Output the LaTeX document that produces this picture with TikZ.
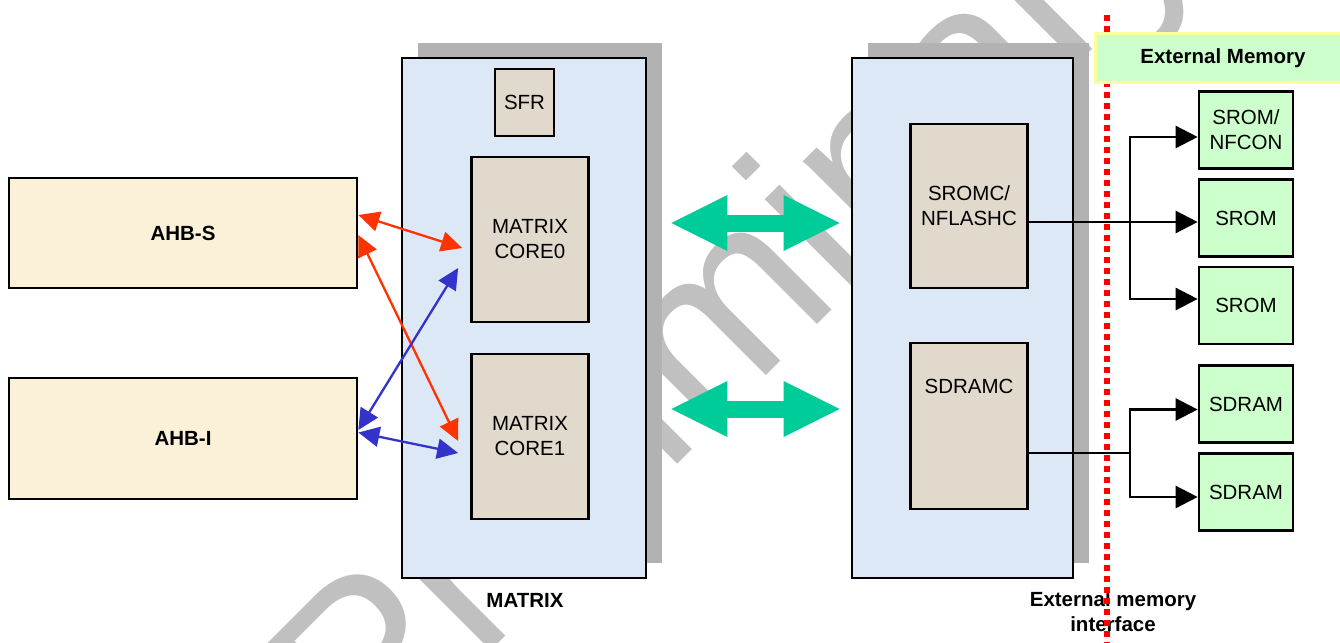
\documentclass[tikz,border=0pt]{standalone}
\usepackage{fontspec}
\setmainfont{Liberation Sans}
\usetikzlibrary{arrows.meta,shadows}
\definecolor{Afill}{HTML}{FBF0D8}
\definecolor{Mfill}{HTML}{DCE8F6}
\definecolor{Cfill}{HTML}{E1D9CB}
\definecolor{Efill}{HTML}{CCFFCC}
\definecolor{Eline}{HTML}{FFFF99}
\definecolor{Shade}{HTML}{B2B2B2}
\definecolor{Wmark}{HTML}{C0C0C0}
\definecolor{Rline}{HTML}{FF3300}
\definecolor{Bline}{HTML}{3333CC}
\definecolor{Gbus}{HTML}{00CC99}

\begin{document}
\begin{tikzpicture}[x=1pt,y=-1pt,
    font=\fontsize{20.5}{25}\selectfont,
    box/.style={draw=black,line width=2.7pt,inner sep=0pt,align=center},
    blk/.style={box,fill=Mfill,minimum height=520pt,
      drop shadow={shadow xshift=16pt,shadow yshift=15pt,fill=Shade,opacity=1}},
    core/.style={box,fill=Cfill,minimum width=117pt},
    mem/.style={box,fill=Efill,minimum width=94pt,minimum height=77pt},
    bus/.style={Gbus,line width=17pt,
      {Triangle[length=56pt,width=56pt,line width=0pt]}-{Triangle[length=56pt,width=56pt,line width=0pt]}},
    link/.style={line width=2.6pt,-{Triangle[length=22pt,width=22pt]}},
    req/.style={line width=2.3pt,{Triangle[length=21pt,width=20pt]}-{Triangle[length=21pt,width=20pt]}}]
\def\bold{\fontsize{20.5}{25}\selectfont\bfseries}

\useasboundingbox (0,0) rectangle (1340,642);

% ---- watermark ----
\begin{scope}
  \clip (0,0) rectangle (1340,642);
  \node[Wmark,rotate=45,anchor=base west,inner sep=0pt,
        font=\fontsize{237}{237}\selectfont] (wmark) at (368,774) {Preliminary};
\end{scope}

% ---- AHB masters ----
\node[box,fill=Afill,minimum width=348pt,minimum height=110pt,font=\bold] (ahbs) at (183,233) {AHB-S};
\node[box,fill=Afill,minimum width=348pt,minimum height=121pt,font=\bold] (ahbi) at (183,438.5) {AHB-I};

% ---- matrix block ----
\node[blk,minimum width=244pt] (matrix) at (524,318) {};
\node[core,minimum width=59pt,minimum height=67pt] (sfr) at (524.5,102.5) {SFR};
\node[core,minimum height=165pt] (core0) at (530,239.5) {MATRIX\\CORE0};
\node[core,minimum height=165pt] (core1) at (530,436.5) {MATRIX\\CORE1};
\node[font=\bold] (matrixlbl) at (525,600) {MATRIX};

% ---- memory interface block ----
\node[blk,minimum width=221pt] (memctl) at (962.5,318) {};
\node[core,minimum height=164pt] (sromc) at (969,206) {SROMC/\\NFLASHC};
\node[core,minimum height=166pt] (sdramc) at (969,426) {};
\node[anchor=north,inner sep=0pt] (sdramctxt) at ([yshift=-37.5pt]sdramc.north) {SDRAMC};
\node[align=center,font=\bold] (emilbl) at (1113,612) {External memory\\interface};

% ---- boundary ----
\draw[red,line width=6pt,dash pattern=on 6pt off 5pt] (1107,15) -- (1107,650);
\node[fill=Efill,draw=Eline,line width=3pt,minimum width=256pt,minimum height=48pt,
      inner sep=0pt,font=\bold] (extmem) at (1223,58) {External Memory};

% ---- external devices ----
\foreach \n/\y/\t in {srom1/130/{SROM/\\NFCON}, srom2/218/{SROM}, srom3/305.5/{SROM},
                      sdram1/404/{SDRAM}, sdram2/492/{SDRAM}}{
  \node[mem] (\n) at (1246,\y) {\t};}

% ---- buses ----
\draw[bus] ([xshift=24pt,yshift=95pt]matrix.east) -- ([xshift=-11pt,yshift=95pt]memctl.west);
\draw[bus] ([xshift=24pt,yshift=-91pt]matrix.east) -- ([xshift=-11pt,yshift=-91pt]memctl.west);

% ---- AHB requests ----
\draw[req,Rline] ([yshift=18pt]ahbs.east) -- ([xshift=-8pt,yshift=-8.5pt]core0.west);
\draw[req,Rline] ([yshift=-2pt]ahbs.east) -- ([xshift=-12pt,yshift=-4.5pt]core1.west);
\draw[req,Bline] ([yshift=8.5pt]ahbi.east) -- ([xshift=-12pt,yshift=-28.5pt]core0.west);
\draw[req,Bline] ([yshift=6pt]ahbi.east) -- ([xshift=-12pt,yshift=-16.5pt]core1.west);

% ---- memory links ----
\coordinate (forkS) at (1130,222);
\coordinate (forkD) at (1130,453);
\draw[link] ([yshift=-16pt]sromc.east) -- ([yshift=-16pt]sromc.east -| srom2.west);
\draw[link] (forkS) |- ([yshift=-7pt]srom1.west);
\draw[link] (forkS) |- ([yshift=6.5pt]srom3.west);
\draw[line width=2.6pt] ([yshift=-27pt]sdramc.east) -- (forkD);
\draw[link] (forkD) |- ([yshift=-5.5pt]sdram1.west);
\draw[link] (forkD) |- ([yshift=-5pt]sdram2.west);
\end{tikzpicture}
\end{document}
